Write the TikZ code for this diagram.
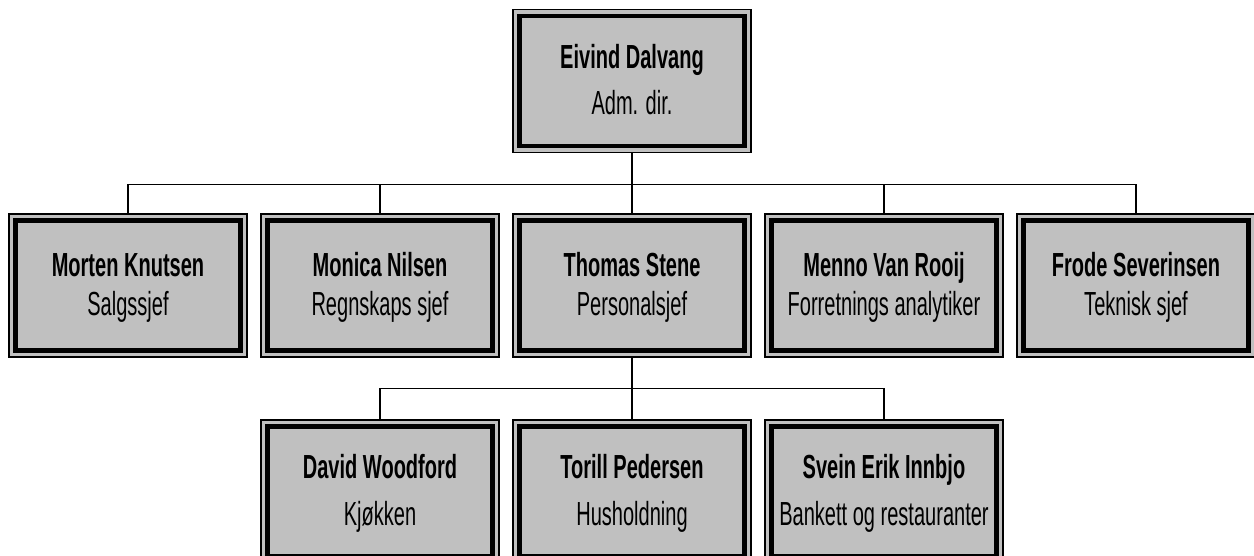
\documentclass[tikz,border=0pt]{standalone}
\usepackage{fontspec}
\setmainfont[FakeStretch=0.6]{Liberation Sans}
\usetikzlibrary{positioning}
\definecolor{boxgray}{HTML}{C0C0C0}
\newcommand{\orgstrut}{\rule[-4.5pt]{0pt}{21pt}}
\newcommand{\who}[2]{\orgstrut\textbf{#1}\\\orgstrut#2}
\tikzset{
    staff/.style={
    rectangle,draw=black,line width=0.8pt,fill=boxgray,
    minimum width=4.76cm,minimum height=2.86cm,inner sep=0pt,
    align=center,font=\fontsize{19}{26.6}\selectfont,
    path picture={\draw[line width=2.3pt]
      ([shift={(0.13,-0.13)}]path picture bounding box.north west) rectangle
      ([shift={(-0.13,0.13)}]path picture bounding box.south east);}
    },
    tight/.style={font=\fontsize{19}{22.7}\selectfont},
    link/.style={draw=black,line width=0.6pt},
}

\begin{document}
\begin{tikzpicture}[node distance=5.04cm, on grid]
   \useasboundingbox (0,0) rectangle (25.08,-11.12);
   \node[staff] (boss) at (12.64,-1.62) {\who{Eivind Dalvang}{Adm. dir.}};
   \node[staff,tight,below=4.09cm of boss] (thomas) {\who{Thomas Stene}{Personalsjef}};
   \node[staff,tight,left=of thomas] (monica) {\who{Monica Nilsen}{Regnskaps sjef}};
   \node[staff,tight,left=of monica] (morten) {\who{Morten Knutsen}{Salgssjef}};
   \node[staff,tight,right=of thomas] (menno) {\who{Menno Van Rooij}{Forretnings analytiker}};
   \node[staff,tight,right=of menno] (frode) {\who{Frode Severinsen}{Teknisk sjef}};
   \node[staff,below=4.12cm of thomas] (torill) {\who{Torill Pedersen}{Husholdning}};
   \node[staff,left=of torill] (david) {\who{David Woodford}{Kjøkken}};
   \node[staff,right=of torill] (svein) {\who{Svein Erik Innbjo}{Bankett og restauranter}};

   \coordinate[below=0.62cm of boss.south] (bus1);
   \coordinate[below=0.62cm of thomas.south] (bus2);

   \draw[link] (boss) -- (thomas);
   \draw[link] (morten.north) |- (bus1) -| (frode.north);
   \draw[link] (monica.north) -- (monica.north |- bus1);
   \draw[link] (menno.north) -- (menno.north |- bus1);
   \draw[link] (thomas) -- (torill);
   \draw[link] (david.north) |- (bus2) -| (svein.north);
\end{tikzpicture}
\end{document}
